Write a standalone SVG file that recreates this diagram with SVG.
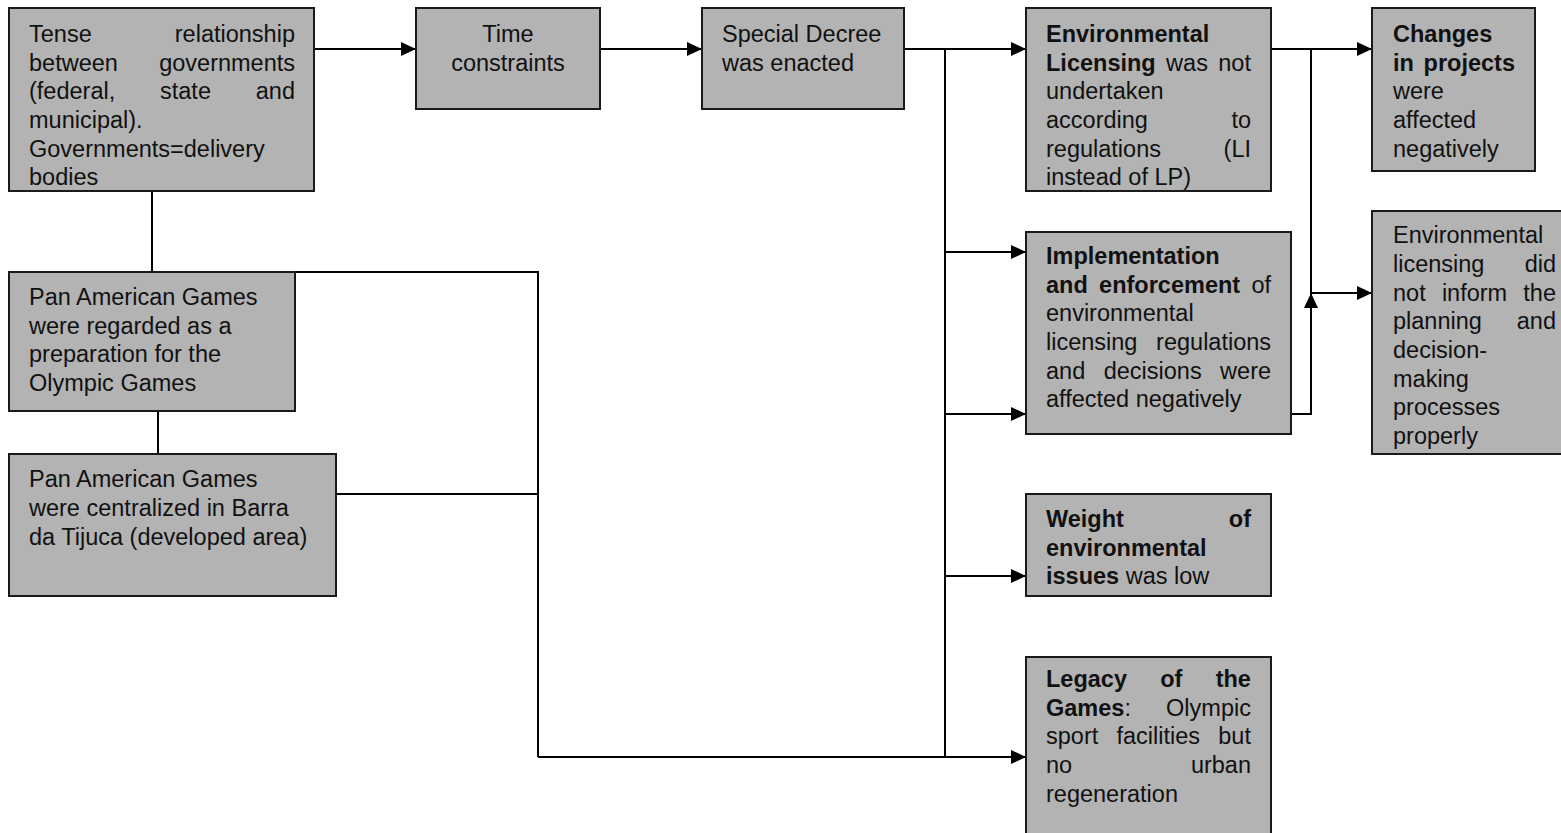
<svg xmlns="http://www.w3.org/2000/svg" width="1561" height="833" viewBox="0 0 1561 833">
<style>
.box{fill:#b3b3b3;stroke:#1a1a1a;stroke-width:2}
.t{font-family:"Liberation Sans",Arial,sans-serif;font-size:23.5px;fill:#111}
.b{font-weight:bold}
.c{fill:none;stroke:#000;stroke-width:2}
.a{marker-end:url(#ah)}
</style>
<defs>
<marker id="ah" markerUnits="userSpaceOnUse" markerWidth="15" markerHeight="14" refX="15" refY="7" orient="auto">
<path d="M0,0 L15,7 L0,14 z" fill="#000"/>
</marker>
</defs>
<rect width="1561" height="833" fill="#fff"/>

<g id="connectors">
<path class="c a" d="M314,49 H416"/>
<path class="c a" d="M600,49 H702"/>
<path class="c a" d="M904,49 H1026"/>
<path class="c" d="M945,49 V757"/>
<path class="c a" d="M945,252 H1026"/>
<path class="c a" d="M945,414 H1026"/>
<path class="c a" d="M945,576 H1026"/>
<path class="c a" d="M538,757 H1026"/>
<path class="c" d="M295,272 H538 V757"/>
<path class="c" d="M336,494 H538"/>
<path class="c" d="M152,191 V272"/>
<path class="c" d="M158,411 V454"/>
<path class="c a" d="M1271,49 H1372"/>
<path class="c" d="M1311,49 V293"/>
<path class="c a" d="M1311,293 H1372"/>
<path class="c a" d="M1291,414 H1311 V293"/>
</g>

<g id="n-tense">
<rect class="box" x="9" y="8" width="305" height="183"/>
<text class="t" y="42"><tspan x="29">Tense</tspan><tspan x="174.8">relationship</tspan></text>
<text class="t" y="70.5"><tspan x="29">between</tspan><tspan x="159.2">governments</tspan></text>
<text class="t" y="99"><tspan x="29">(federal,</tspan><tspan x="160">state</tspan><tspan x="255.8">and</tspan></text>
<text class="t" x="29" y="128">municipal).</text>
<text class="t" x="29" y="156.5">Governments=delivery</text>
<text class="t" x="29" y="185">bodies</text>
</g>

<g id="n-time">
<rect class="box" x="416" y="8" width="184" height="101"/>
<text class="t" x="508" y="42" text-anchor="middle">Time</text>
<text class="t" x="508" y="70.5" text-anchor="middle">constraints</text>
</g>

<g id="n-decree">
<rect class="box" x="702" y="8" width="202" height="101"/>
<text class="t" x="722" y="42">Special Decree</text>
<text class="t" x="722" y="70.5">was enacted</text>
</g>

<g id="n-licensing">
<rect class="box" x="1026" y="8" width="245" height="183"/>
<text class="t b" x="1046" y="42">Environmental</text>
<text class="t" y="70.5"><tspan x="1046" class="b">Licensing</tspan><tspan x="1166.1">was</tspan><tspan x="1218.3">not</tspan></text>
<text class="t" x="1046" y="99">undertaken</text>
<text class="t" y="128"><tspan x="1046">according</tspan><tspan x="1231.4">to</tspan></text>
<text class="t" y="156.5"><tspan x="1046">regulations</tspan><tspan x="1223.6">(LI</tspan></text>
<text class="t" x="1046" y="185">instead of LP)</text>
</g>

<g id="n-changes">
<rect class="box" x="1372" y="8" width="163" height="163"/>
<text class="t b" x="1393" y="42">Changes</text>
<text class="t b" y="70.5"><tspan x="1393">in</tspan><tspan x="1423.6">projects</tspan></text>
<text class="t" x="1393" y="99">were</text>
<text class="t" x="1393" y="128">affected</text>
<text class="t" x="1393" y="156.5">negatively</text>
</g>

<g id="n-inform">
<rect class="box" x="1372" y="211" width="205" height="243"/>
<text class="t" x="1393" y="243">Environmental</text>
<text class="t" y="272"><tspan x="1393">licensing</tspan><tspan x="1524.7">did</tspan></text>
<text class="t" y="300.5"><tspan x="1393">not</tspan><tspan x="1441.9">inform</tspan><tspan x="1523.3">the</tspan></text>
<text class="t" y="329"><tspan x="1393">planning</tspan><tspan x="1516.8">and</tspan></text>
<text class="t" x="1393" y="358">decision-</text>
<text class="t" x="1393" y="386.5">making</text>
<text class="t" x="1393" y="415">processes</text>
<text class="t" x="1393" y="444">properly</text>
</g>

<g id="n-implementation">
<rect class="box" x="1026" y="232" width="265" height="202"/>
<text class="t b" x="1046" y="264">Implementation</text>
<text class="t" y="292.5"><tspan x="1046" class="b">and</tspan><tspan x="1099.1" class="b">enforcement</tspan><tspan x="1251.4">of</tspan></text>
<text class="t" x="1046" y="321">environmental</text>
<text class="t" y="350"><tspan x="1046">licensing</tspan><tspan x="1156.1">regulations</tspan></text>
<text class="t" y="378.5"><tspan x="1046">and</tspan><tspan x="1103.7">decisions</tspan><tspan x="1220.1">were</tspan></text>
<text class="t" x="1046" y="407">affected negatively</text>
</g>

<g id="n-weight">
<rect class="box" x="1026" y="494" width="245" height="102"/>
<text class="t b" y="527"><tspan x="1046">Weight</tspan><tspan x="1228.8">of</tspan></text>
<text class="t b" x="1046" y="555.5">environmental</text>
<text class="t" x="1046" y="584"><tspan class="b">issues</tspan> was low</text>
</g>

<g id="n-legacy">
<rect class="box" x="1026" y="657" width="245" height="200"/>
<text class="t b" y="687"><tspan x="1046">Legacy</tspan><tspan x="1160.2">of</tspan><tspan x="1215.7">the</tspan></text>
<text class="t" y="715.5"><tspan x="1046" class="b">Games</tspan><tspan>:</tspan><tspan x="1166.1">Olympic</tspan></text>
<text class="t" y="744"><tspan x="1046">sport</tspan><tspan x="1116.5">facilities</tspan><tspan x="1218.3">but</tspan></text>
<text class="t" y="773"><tspan x="1046">no</tspan><tspan x="1190.9">urban</tspan></text>
<text class="t" x="1046" y="801.5">regeneration</text>
</g>

<g id="n-pan1">
<rect class="box" x="9" y="272" width="286" height="139"/>
<text class="t" x="29" y="305">Pan American Games</text>
<text class="t" x="29" y="333.5">were regarded as a</text>
<text class="t" x="29" y="362">preparation for the</text>
<text class="t" x="29" y="391">Olympic Games</text>
</g>

<g id="n-pan2">
<rect class="box" x="9" y="454" width="327" height="142"/>
<text class="t" x="29" y="487">Pan American Games</text>
<text class="t" x="29" y="516">were centralized in Barra</text>
<text class="t" x="29" y="544.5">da Tijuca (developed area)</text>
</g>
</svg>
